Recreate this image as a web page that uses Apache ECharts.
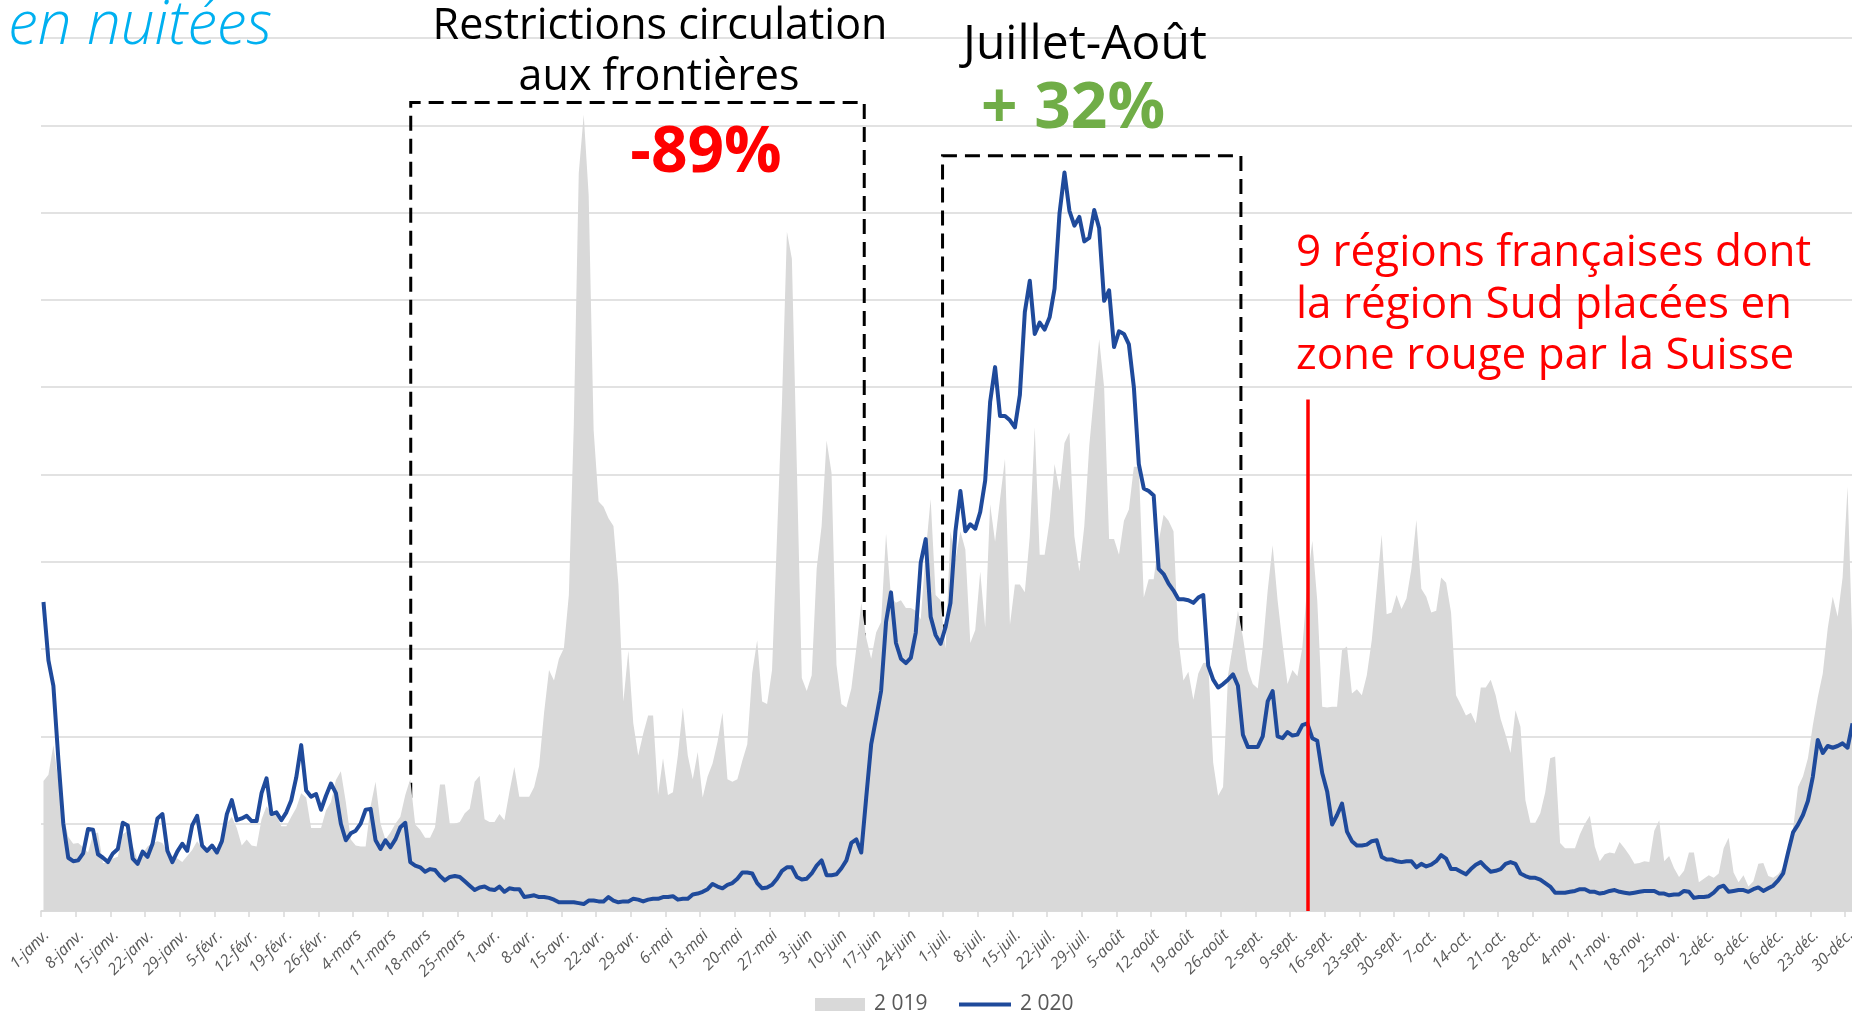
<!DOCTYPE html>
<html><head><meta charset="utf-8">
<script src="https://cdn.jsdelivr.net/npm/echarts@6/dist/echarts.min.js"></script>
<style>html,body{margin:0;padding:0;background:#fff}#c{width:1852px;height:1017px}</style>
</head><body><div id="c"></div>
<script>
// Tick labels (every 7 days, 2020 is a leap year)
const tickLabels = ['1-janv.','8-janv.','15-janv.','22-janv.','29-janv.','5-févr.','12-févr.','19-févr.','26-févr.','4-mars','11-mars','18-mars','25-mars','1-avr.','8-avr.','15-avr.','22-avr.','29-avr.','6-mai','13-mai','20-mai','27-mai','3-juin','10-juin','17-juin','24-juin','1-juil.','8-juil.','15-juil.','22-juil.','29-juil.','5-août','12-août','19-août','26-août','2-sept.','9-sept.','16-sept.','23-sept.','30-sept.','7-oct.','14-oct.','21-oct.','28-oct.','4-nov.','11-nov.','18-nov.','25-nov.','2-déc.','9-déc.','16-déc.','23-déc.','30-déc.'];

const seriesNames = ['2 019', '2 020'];

// Daily nuitées (index units, one value per day, 1 Jan -> 31 Dec)
const nuitees2019 = [
1.49,1.56,1.90,1.50,1.10,0.85,0.77,0.78,0.73,0.67,
0.88,0.90,0.55,0.55,0.60,0.62,0.88,0.92,0.75,0.58,
0.66,0.74,0.78,0.80,0.78,0.68,0.63,0.60,0.56,0.63,
0.70,0.80,0.72,0.72,0.70,0.70,0.78,1.00,1.08,0.95,
0.75,0.82,0.75,0.74,1.05,1.20,1.12,1.10,0.97,0.97,
1.08,1.18,1.35,1.30,0.95,0.95,0.95,1.15,1.25,1.50,
1.60,1.25,0.82,0.75,0.74,0.74,1.20,1.48,1.00,0.82,
0.90,1.00,1.08,1.33,1.51,0.99,0.93,0.84,0.84,0.96,
1.45,1.45,0.99,1.00,1.02,1.12,1.17,1.48,1.55,1.05,
1.02,1.02,1.11,1.04,1.36,1.65,1.31,1.31,1.31,1.42,
1.66,2.27,2.76,2.64,2.89,3.01,3.62,5.57,8.45,9.12,
8.20,5.51,4.69,4.63,4.50,4.41,3.74,2.40,2.98,2.15,
1.78,2.03,2.24,2.24,1.33,1.75,1.33,1.36,1.78,2.33,
1.78,1.51,1.82,1.30,1.54,1.69,1.94,2.27,1.51,1.48,
1.51,1.72,1.91,2.73,3.10,2.40,2.37,2.76,4.29,5.82,
7.78,7.47,5.09,2.67,2.52,2.70,3.92,4.41,5.39,5.02,
2.82,2.37,2.33,2.55,3.01,3.53,3.13,2.89,3.19,3.31,
4.32,3.59,3.53,3.56,3.47,3.47,3.44,3.34,4.11,4.72,
3.62,3.56,3.00,4.35,4.02,4.35,4.14,3.07,3.22,3.89,
3.25,4.66,4.23,4.72,5.18,3.28,3.74,3.74,3.65,4.29,
5.54,4.08,4.08,4.47,5.12,4.81,5.36,5.48,4.29,3.89,
4.41,5.33,5.94,6.55,6.00,4.26,4.26,4.08,4.47,4.60,
5.09,5.09,3.59,3.80,3.80,4.23,4.54,4.47,4.35,3.10,
2.64,2.74,2.42,2.72,2.84,2.85,1.70,1.32,1.42,2.70,
3.05,3.44,3.14,2.76,2.60,2.55,3.02,3.67,4.19,3.56,
3.06,2.60,2.76,2.69,3.02,3.75,4.24,3.56,2.34,2.33,
2.34,2.34,2.99,3.03,2.49,2.54,2.47,2.70,3.10,3.69,
4.31,3.40,3.42,3.62,3.46,3.58,3.92,4.48,3.69,3.60,
3.42,3.44,3.82,3.76,3.42,2.47,2.36,2.24,2.27,2.15,
2.56,2.56,2.65,2.47,2.20,2.02,1.81,2.30,2.11,1.27,
1.01,1.01,1.12,1.36,1.75,1.77,0.78,0.72,0.72,0.72,
0.88,1.00,1.09,0.74,0.57,0.65,0.67,0.66,0.79,0.72,
0.64,0.54,0.55,0.57,0.56,0.92,1.04,0.57,0.63,0.49,
0.39,0.46,0.67,0.67,0.33,0.37,0.41,0.38,0.43,0.72,
0.84,0.44,0.33,0.41,0.28,0.34,0.54,0.55,0.40,0.38,
0.42,0.50,0.63,0.94,1.42,1.54,1.75,2.13,2.45,2.72,
3.24,3.60,3.37,3.82,4.86,3.00];

const nuitees2020 = [
3.54,2.87,2.58,1.74,1.00,0.61,0.57,0.58,0.66,0.94,
0.93,0.65,0.61,0.56,0.66,0.71,1.01,0.98,0.60,0.54,
0.68,0.62,0.77,1.06,1.11,0.69,0.56,0.68,0.77,0.69,
0.98,1.09,0.75,0.69,0.75,0.67,0.80,1.11,1.27,1.04,
1.06,1.09,1.03,1.03,1.35,1.52,1.11,1.13,1.04,1.13,
1.27,1.53,1.90,1.38,1.31,1.34,1.16,1.32,1.46,1.35,
1.00,0.81,0.89,0.92,1.00,1.16,1.17,0.81,0.71,0.81,
0.73,0.82,0.96,1.01,0.56,0.52,0.50,0.45,0.48,0.47,
0.40,0.35,0.39,0.40,0.39,0.34,0.29,0.24,0.27,0.28,
0.25,0.24,0.28,0.22,0.26,0.25,0.25,0.16,0.17,0.18,
0.16,0.16,0.15,0.13,0.10,0.10,0.10,0.10,0.09,0.08,
0.12,0.12,0.11,0.11,0.16,0.12,0.10,0.11,0.11,0.14,
0.13,0.11,0.13,0.14,0.14,0.16,0.16,0.17,0.13,0.14,
0.14,0.19,0.20,0.22,0.25,0.31,0.28,0.26,0.30,0.32,
0.37,0.44,0.44,0.43,0.32,0.26,0.27,0.30,0.37,0.46,
0.50,0.50,0.39,0.36,0.37,0.43,0.52,0.58,0.41,0.41,
0.42,0.49,0.58,0.78,0.82,0.67,1.30,1.91,2.21,2.52,
3.31,3.65,3.07,2.89,2.84,2.90,3.19,3.99,4.26,3.37,
3.16,3.06,3.25,3.53,4.35,4.81,4.35,4.43,4.38,4.57,
4.93,5.83,6.23,5.67,5.67,5.62,5.54,5.91,6.86,7.22,
6.61,6.74,6.66,6.80,7.13,7.99,8.46,8.02,7.85,7.95,
7.67,7.71,8.03,7.82,6.99,7.11,6.46,6.64,6.61,6.49,
6.00,5.12,4.84,4.81,4.76,3.92,3.86,3.75,3.67,3.57,
3.57,3.56,3.53,3.59,3.62,2.81,2.65,2.56,2.60,2.65,
2.71,2.58,2.02,1.88,1.88,1.88,2.00,2.40,2.52,2.00,
1.98,2.05,2.01,2.02,2.13,2.15,1.98,1.95,1.58,1.37,
0.99,1.10,1.23,0.91,0.80,0.75,0.75,0.76,0.80,0.81,
0.62,0.59,0.59,0.57,0.56,0.57,0.57,0.50,0.54,0.51,
0.53,0.57,0.64,0.60,0.48,0.48,0.45,0.42,0.48,0.53,
0.56,0.50,0.45,0.46,0.48,0.54,0.56,0.54,0.43,0.40,
0.38,0.38,0.36,0.32,0.28,0.21,0.21,0.21,0.22,0.23,
0.25,0.25,0.22,0.22,0.20,0.21,0.23,0.24,0.22,0.21,
0.20,0.21,0.22,0.23,0.23,0.23,0.20,0.20,0.18,0.19,
0.19,0.23,0.22,0.15,0.16,0.16,0.17,0.21,0.27,0.29,
0.22,0.23,0.24,0.24,0.22,0.25,0.27,0.23,0.26,0.29,
0.35,0.43,0.67,0.90,0.99,1.10,1.26,1.54,1.96,1.81,
1.89,1.87,1.89,1.92,1.87,2.15];

const FONT = '"Open Sans", "DejaVu Sans", sans-serif';
const chart = echarts.init(document.getElementById('c'), null, {renderer: 'canvas'});

const toPoints = arr => arr.map((v, i) => [i + 0.5, v]);

chart.setOption({
  animation: false,
  backgroundColor: '#ffffff',
  grid: {left: 41, top: 38, width: 1814, height: 873, containLabel: false, outerBoundsMode: 'none'},
  xAxis: {
    type: 'value', min: 0, max: 366, interval: 7,
    splitLine: {show: false},
    axisLine: {show: true, lineStyle: {color: '#d9d9d9', width: 1.5}},
    axisTick: {show: true, length: 6, lineStyle: {color: '#d9d9d9', width: 1.5}},
    axisLabel: {
      rotate: 45, margin: 16, color: '#595959', fontSize: 16, fontStyle: 'italic',
      fontFamily: FONT, showMaxLabel: false, verticalAlign: 'top', hideOverlap: false,
      formatter: v => (v % 7 === 0 && tickLabels[v / 7] !== undefined) ? tickLabels[v / 7] : ''
    }
  },
  yAxis: {
    type: 'value', min: 0, max: 10, interval: 1,
    axisLine: {show: false}, axisTick: {show: false}, axisLabel: {show: false},
    splitLine: {show: true, lineStyle: {color: '#d9d9d9', width: 1.5}}
  },
  legend: [
    {data: [{name: seriesNames[0], icon: 'rect'}], left: 810, top: 989, itemWidth: 50, itemHeight: 13,
     textStyle: {color: '#595959', fontSize: 21, fontFamily: FONT, padding: [0, 0, 0, 4]}},
    {data: [{name: seriesNames[1], icon: 'rect'}], left: 954, top: 989, itemWidth: 52, itemHeight: 4,
     textStyle: {color: '#595959', fontSize: 21, fontFamily: FONT, padding: [0, 0, 0, 4]}}
  ],
  series: [
    {
      name: seriesNames[0], type: 'line', data: toPoints(nuitees2019),
      showSymbol: false, symbol: 'none', z: 1,
      itemStyle: {color: '#d9d9d9'},
      lineStyle: {width: 0, color: '#d9d9d9'},
      areaStyle: {color: '#d9d9d9', opacity: 1}
    },
    {
      name: seriesNames[1], type: 'line', data: toPoints(nuitees2020),
      showSymbol: false, symbol: 'none', z: 3,
      itemStyle: {color: '#1f4a9b'},
      lineStyle: {width: 4, color: '#1f4a9b', join: 'round'},
      markArea: {
        silent: true,
        itemStyle: {color: 'rgba(0,0,0,0)', borderColor: '#000000', borderWidth: 3, borderType: [15, 8]},
        label: {show: false},
        data: [
          [{xAxis: 74.6, yAxis: 0.04}, {xAxis: 166.1, yAxis: 9.26}],
          [{xAxis: 181.9, yAxis: 0.04}, {xAxis: 242.1, yAxis: 8.65}]
        ]
      },
      markLine: {
        silent: true, symbol: ['none', 'none'], label: {show: false},
        lineStyle: {color: '#ff0000', width: 3.5, type: 'solid'},
        data: [[{coord: [255.5, 0]}, {coord: [255.5, 5.86]}]]
      }
    }
  ],
  graphic: [
    {type: 'text', x: 8, y: 27, z: 10, style: {text: 'en nuitées', fill: '#00b0f0', font: 'italic 300 60px ' + FONT, align: 'left', verticalAlign: 'middle'}},
    {type: 'text', x: 660, y: 27, z: 10, style: {text: 'Restrictions circulation', fill: '#000', font: '43px ' + FONT, align: 'center', verticalAlign: 'middle'}},
    {type: 'text', x: 659, y: 78, z: 10, style: {text: 'aux frontières', fill: '#000', font: '43px ' + FONT, align: 'center', verticalAlign: 'middle'}},
    {type: 'text', x: 706, y: 154, z: 10, style: {text: '-89%', fill: '#ff0000', font: 'bold 64px ' + FONT, align: 'center', verticalAlign: 'middle'}},
    {type: 'text', x: 1085, y: 45, z: 10, style: {text: 'Juillet-Août', fill: '#000', font: '48px ' + FONT, align: 'center', verticalAlign: 'middle'}},
    {type: 'text', x: 1073, y: 110, z: 10, style: {text: '+ 32%', fill: '#70ad47', font: 'bold 64px ' + FONT, align: 'center', verticalAlign: 'middle'}},
    {type: 'text', x: 1296, y: 253, z: 10, style: {text: '9 régions françaises dont', fill: '#ff0000', font: '44px ' + FONT, align: 'left', verticalAlign: 'middle'}},
    {type: 'text', x: 1296, y: 305, z: 10, style: {text: 'la région Sud placées en', fill: '#ff0000', font: '44px ' + FONT, align: 'left', verticalAlign: 'middle'}},
    {type: 'text', x: 1296, y: 356, z: 10, style: {text: 'zone rouge par la Suisse', fill: '#ff0000', font: '44px ' + FONT, align: 'left', verticalAlign: 'middle'}}
  ]
});
</script>
</body></html>
